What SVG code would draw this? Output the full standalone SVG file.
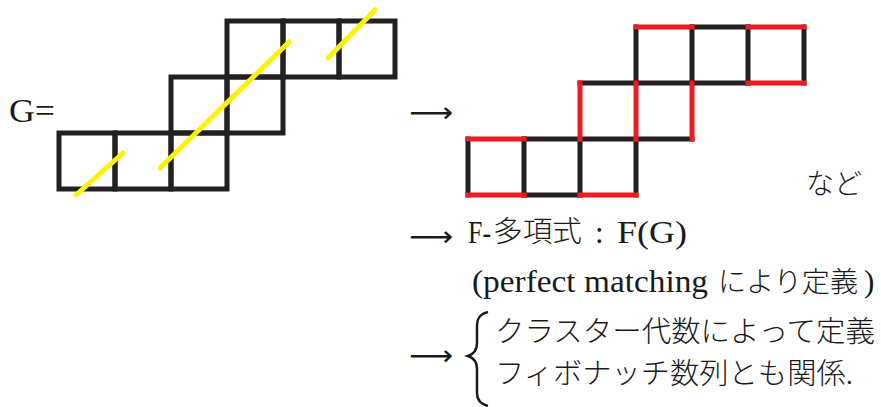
<svg xmlns="http://www.w3.org/2000/svg" width="881" height="407" viewBox="0 0 881 407">
<style>
.bk{stroke:#231f20;stroke-width:5;fill:none;stroke-linecap:square}
.rd{stroke:#ed1c24;stroke-width:5;fill:none;stroke-linecap:square}
.ye{stroke:#fff200;stroke-width:5;fill:none;stroke-linecap:round}
.lat{font-family:"Liberation Serif","DejaVu Serif",serif;fill:#1a1a1a}
.cjk{font-family:"Noto Sans CJK JP","Noto Sans CJK SC",sans-serif;fill:#1a1a1a;font-weight:300}
.arr{font-family:"DejaVu Sans",sans-serif;fill:#1a1a1a}
</style>
<rect width="881" height="407" fill="#ffffff"/>
<g id="graphG">
<text class="lat" x="9" y="122" font-size="33" textLength="46" lengthAdjust="spacingAndGlyphs">G=</text>
<g class="bk">
<rect x="59" y="133" width="56" height="56"/>
<rect x="115" y="133" width="56" height="56"/>
<rect x="171" y="133" width="56" height="56"/>
<rect x="171" y="77" width="56" height="56"/>
<rect x="227" y="77" width="56" height="56"/>
<rect x="227" y="21" width="56" height="56"/>
<rect x="283" y="21" width="56" height="56"/>
<rect x="339" y="21" width="56" height="56"/>
</g>
<g class="ye">
<line x1="76" y1="195" x2="123" y2="153"/>
<line x1="160" y1="168" x2="289" y2="42"/>
<line x1="328" y1="58" x2="375" y2="10"/>
</g>
</g>
<g id="arrows">
<text class="arr" x="409" y="122" font-size="28" textLength="44" lengthAdjust="spacingAndGlyphs">⟶</text>
<text class="arr" x="409" y="246" font-size="28" textLength="44" lengthAdjust="spacingAndGlyphs">⟶</text>
<text class="arr" x="409" y="365" font-size="28" textLength="44" lengthAdjust="spacingAndGlyphs">⟶</text>
</g>
<g id="matching">
<g class="bk">
<path d="M468,139V195M524,139V195M580,139V195M636,139V195"/>
<path d="M524,195H580M524,139H692"/>
<path d="M580,83H748"/>
<path d="M636,27V83M692,27V83M748,27V83M804,27V83"/>
<path d="M692,27H748"/>
</g>
<g class="rd">
<path d="M468,195H524M580,195H636M468,139H524"/>
<path d="M580,83V139M636,83V139M692,83V139"/>
<path d="M748,83H804M636,27H692M748,27H804"/>
</g>
<text class="cjk" x="806" y="194" font-size="28">など</text>
</g>
<g id="fpoly">
<text class="lat" x="468" y="243" font-size="31" textLength="23" lengthAdjust="spacingAndGlyphs">F-</text>
<text class="cjk" x="493" y="242" font-size="29" textLength="89" lengthAdjust="spacingAndGlyphs">多項式</text>
<text class="lat" x="595" y="243" font-size="31">:</text>
<text class="lat" x="617" y="243" font-size="31" textLength="70" lengthAdjust="spacingAndGlyphs">F(G)</text>
<text class="lat" x="472" y="292" font-size="31" textLength="236" lengthAdjust="spacingAndGlyphs">(perfect matching</text>
<text class="cjk" x="718" y="292" font-size="28" textLength="140" lengthAdjust="spacingAndGlyphs">により定義</text>
<text class="lat" x="864" y="292" font-size="31">)</text>
</g>
<g id="cluster">
<path d="M488,312 C480,314 477,318 477,326 L477,343 C477,350 474,354 468,356 C474,358 477,362 477,369 L477,393 C477,400 480,404 488,406" fill="none" stroke="#1a1a1a" stroke-width="2.5"/>
<text class="cjk" x="495" y="342" font-size="29" textLength="380" lengthAdjust="spacingAndGlyphs">クラスター代数によって定義</text>
<text class="cjk" x="495" y="384" font-size="29" textLength="358" lengthAdjust="spacingAndGlyphs">フィボナッチ数列とも関係.</text>
</g>
</svg>
